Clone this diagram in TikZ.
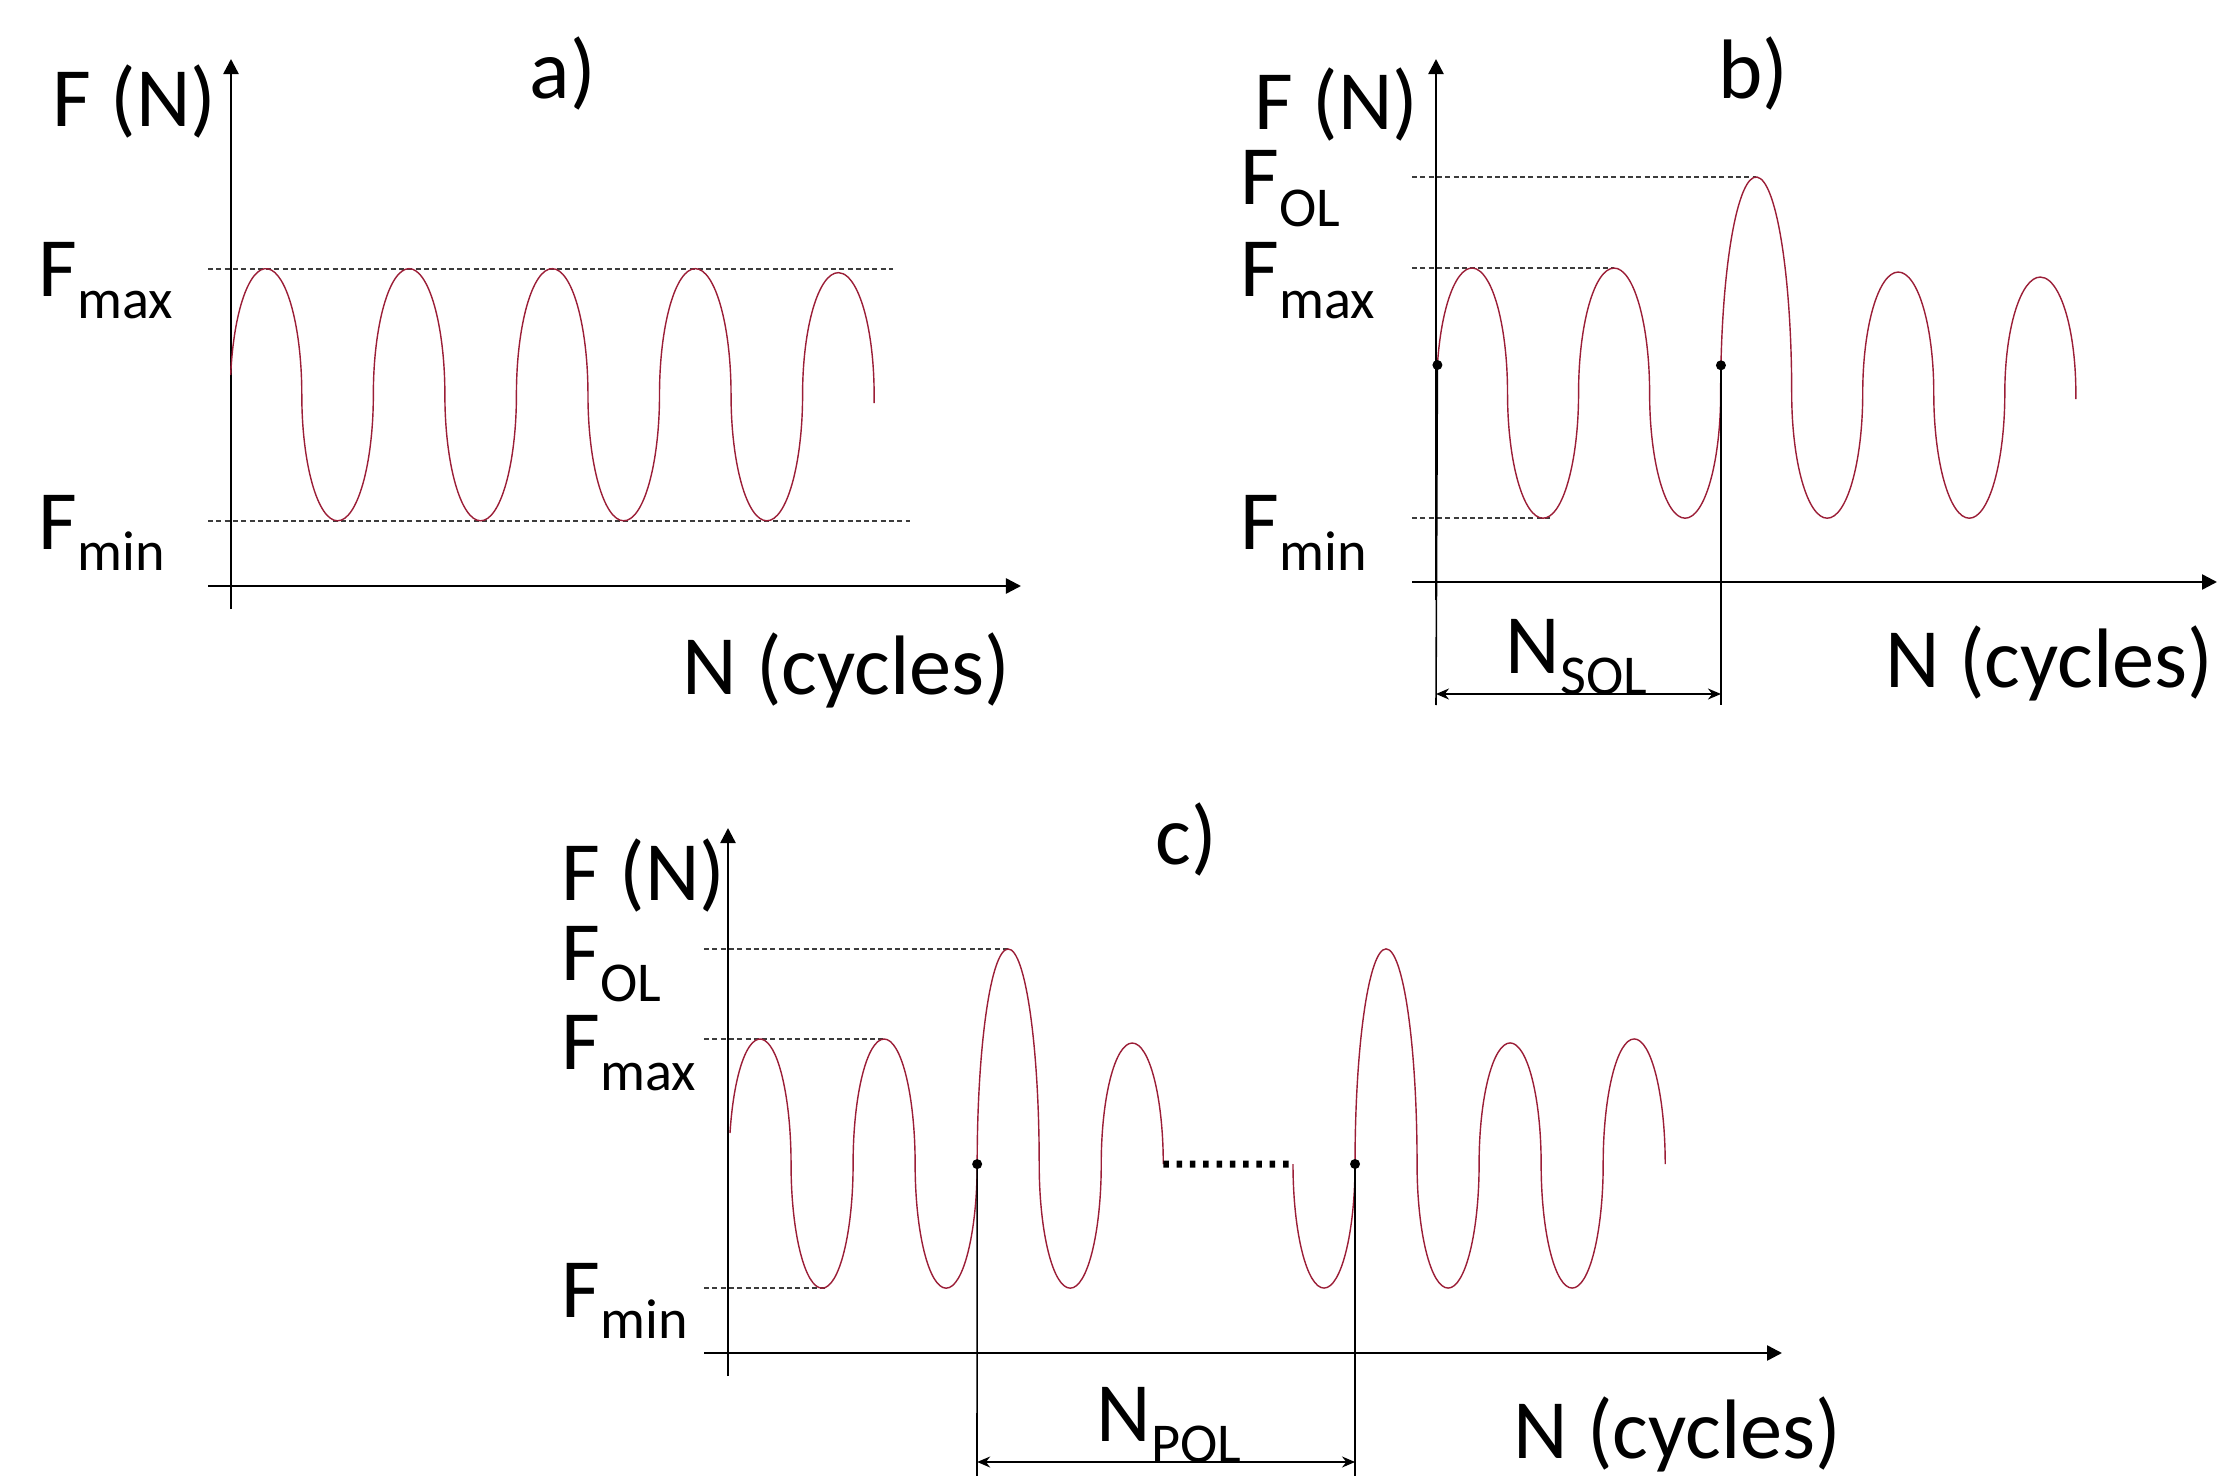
\documentclass[tikz,border=0pt]{standalone}
\usepackage{fontspec}
\setmainfont{Carlito}
\usetikzlibrary{arrows.meta}
\definecolor{curvered}{RGB}{155,30,55}
\definecolor{levelgray}{RGB}{60,60,60}
\newcommand{\lowsub}[1]{\raisebox{-0.215cm}{\fontsize{16}{18}\selectfont #1}}

\begin{document}
\begin{tikzpicture}[x=0.01cm,y=-0.01cm,
    axis/.style={line width=0.7pt,-{Triangle[length=0.15cm,width=0.15cm]}},
    level/.style={levelgray,line width=0.37pt,dash pattern=on 0.05cm off 0.033cm},
    curve/.style={curvered,line width=0.4pt},
    cutline/.style={line width=0.45pt},
    span/.style={line width=0.45pt,{Stealth[length=0.13cm,width=0.11cm]}-{Stealth[length=0.13cm,width=0.11cm]}},
    lbl/.style={inner sep=0pt,anchor=base west,font=\fontsize{24}{29}\selectfont},
    hill/.style={start angle=180,end angle=0,y radius=#1},
    dip/.style={start angle=180,end angle=360,y radius=#1},
    ra/.style={x radius=0.3575cm},
    rb/.style={x radius=0.355cm},
    rc/.style={x radius=0.31cm}]
\useasboundingbox (0,0) rectangle (2220,1476);

% a) constant amplitude loading
\node[lbl,anchor=base] (a-title) at (563,99) {a)};
\node[lbl] (a-F) at (52,127) {F (N)};
\node[lbl] (a-max) at (38,297) {F\lowsub{max}};
\node[lbl] (a-min) at (38,549) {F\lowsub{min}};
\node[lbl] (a-N) at (682,694) {N (cycles)};
\draw[axis] (231,609) -- (231,59);
\draw[axis] (208,586) -- (1021,586);
\draw[level] (208,269) -- (893,269);
\draw[level] (208,521) -- (910,521);
\draw[curve] (230.7,375) arc[ra,start angle=171,end angle=0,y radius=1.26cm]
    \foreach \k in {1,2,3} { arc[ra,dip=1.26cm] arc[ra,hill=1.26cm] }
    arc[ra,dip=1.26cm] arc[ra,start angle=180,end angle=-4,y radius=1.22cm];

% b) single overload
\node[lbl,anchor=base] (b-title) at (1753,99) {b)};
\node[lbl] (b-F) at (1254,130) {F (N)};
\node[lbl] (b-ol) at (1240,205) {F\lowsub{OL}};
\node[lbl] (b-max) at (1240,297) {F\lowsub{max}};
\node[lbl] (b-min) at (1240,549) {F\lowsub{min}};
\node[lbl] (b-N) at (1885,687) {N (cycles)};
\node[lbl] (b-sol) at (1505,673) {N\lowsub{SOL}};
\draw[axis] (1436,600) -- (1436,59);
\draw[axis] (1412,582) -- (2217,582);
\draw[level] (1412,177) -- (1756,177);
\draw[level] (1412,268) -- (1614,268);
\draw[level] (1412,518) -- (1553,518);
\coordinate (b1) at (1437.4,365);
\draw[curve] (b1) arc[rb,start angle=167,end angle=0,y radius=1.25cm]
    arc[rb,dip=1.25cm] arc[rb,hill=1.25cm] arc[rb,dip=1.25cm]
    arc[rb,start angle=180,end angle=172.6,y radius=2.16cm] coordinate (b2)
    arc[rb,start angle=172.6,end angle=0,y radius=2.16cm]
    arc[rb,dip=1.25cm] arc[rb,hill=1.21cm] arc[rb,dip=1.25cm]
    arc[rb,start angle=180,end angle=-3,y radius=1.16cm];
\coordinate (b1-end) at (1436,705);
\coordinate (b2-end) at (b2 |- b1-end);
\draw[cutline] (b1) -- (b1-end);
\draw[cutline] (b2) -- (b2-end);
\draw[span] (1436,694) -- (b2 |- 0,694);
\fill (b1) circle[radius=0.05cm];
\fill (b2) circle[radius=0.05cm];

% c) periodic overloads
\node[lbl,anchor=base] (c-title) at (1186,864) {c)};
\node[lbl] (c-F) at (561,900) {F (N)};
\node[lbl] (c-ol) at (561,980) {F\lowsub{OL}};
\node[lbl] (c-max) at (561,1069) {F\lowsub{max}};
\node[lbl] (c-min) at (561,1317) {F\lowsub{min}};
\node[lbl] (c-N) at (1513,1458) {N (cycles)};
\node[lbl] (c-pol) at (1096,1441) {N\lowsub{POL}};
\draw[axis] (728,1376) -- (728,828);
\draw[axis] (704,1353) -- (1782,1353);
\draw[level] (704,949) -- (1008,949);
\draw[level] (704,1039) -- (885,1039);
\draw[level] (704,1288) -- (828,1288);
\draw[curve] (730,1133) arc[rc,start angle=165.6,end angle=0,y radius=1.25cm]
    arc[rc,dip=1.24cm] arc[rc,hill=1.25cm] arc[rc,dip=1.24cm] coordinate (c1)
    arc[rc,hill=2.15cm] arc[rc,dip=1.24cm] arc[rc,hill=1.21cm] coordinate (c3);
\coordinate (c4) at (1293,1164);
\draw[line width=0.07cm,dash pattern=on 0.055cm off 0.078cm] (c3) -- (c4);
\draw[curve] (c4) arc[rc,dip=1.24cm] coordinate (c2)
    arc[rc,hill=2.15cm] arc[rc,dip=1.24cm] arc[rc,hill=1.21cm]
    arc[rc,dip=1.24cm] arc[rc,hill=1.25cm];
\coordinate (c1-end) at (977,1476);
\coordinate (c2-end) at (c2 |- c1-end);
\draw[cutline] (c1) -- (c1-end);
\draw[cutline] (c2) -- (c2-end);
\draw[span] (c1 |- 0,1462) -- (c2 |- 0,1462);
\fill (c1) circle[radius=0.05cm];
\fill (c2) circle[radius=0.05cm];
\end{tikzpicture}
\end{document}
